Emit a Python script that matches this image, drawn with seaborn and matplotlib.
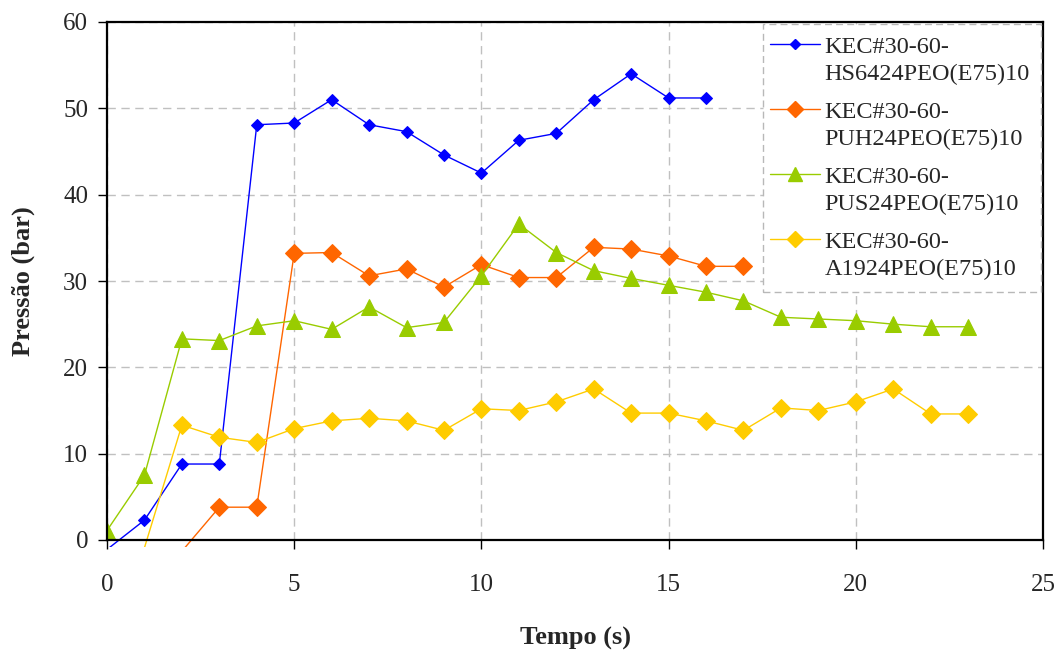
import numpy as np
import pandas as pd
import matplotlib
matplotlib.use("Agg")
import matplotlib.pyplot as plt
from matplotlib.lines import Line2D
from matplotlib.patches import Rectangle
from matplotlib.legend_handler import HandlerLine2D
from matplotlib.transforms import Bbox, TransformedBbox
import seaborn as sns

# Pressure (bar) versus time (s) for four formulations
t_hs = list(range(0, 17))
p_hs = [-1.1, 2.3, 8.8, 8.8, 48.1, 48.3, 51.0, 48.1, 47.3, 44.6, 42.5, 46.3, 47.1, 51.0, 54.0, 51.2, 51.2]

t_puh = list(range(2, 18))
p_puh = [-1.3, 3.8, 3.8, 33.2, 33.3, 30.6, 31.4, 29.3, 31.9, 30.4, 30.4, 33.9, 33.7, 32.9, 31.7, 31.7]

t_pus = list(range(0, 24))
p_pus = [1.1, 7.5, 23.3, 23.1, 24.8, 25.4, 24.4, 27.0, 24.6, 25.2, 30.6, 36.6, 33.3, 31.2, 30.3, 29.5,
         28.7, 27.7, 25.8, 25.6, 25.4, 25.0, 24.7, 24.7]

t_a19 = list(range(1, 24))
p_a19 = [-0.9, 13.3, 11.9, 11.3, 12.9, 13.8, 14.1, 13.8, 12.7, 15.2, 15.0, 16.0, 17.5, 14.7, 14.7,
         13.8, 12.7, 15.3, 15.0, 16.0, 17.5, 14.6, 14.6]

series_names = ["KEC#30-60-\nHS6424PEO(E75)10", "KEC#30-60-\nPUH24PEO(E75)10",
                "KEC#30-60-\nPUS24PEO(E75)10", "KEC#30-60-\nA1924PEO(E75)10"]
series_t = [t_hs, t_puh, t_pus, t_a19]
series_p = [p_hs, p_puh, p_pus, p_a19]
colors = ["#0000FF", "#FF6600", "#99CC00", "#FFCC00"]
markers = ["D", "D", "^", "D"]
msizes = [6, 9, 11, 9]
leg_msizes = [5, 8, 10, 8]

x_ticks = [0, 5, 10, 15, 20, 25]
y_ticks = [0, 10, 20, 30, 40, 50, 60]

sns.set_theme(style="white")
plt.rcParams["font.family"] = ["Liberation Serif", "DejaVu Serif"]

LEG_FS = 17.5
W, H = 1063, 653
AX_L, AX_R, AX_T, AX_B = 107, 1043, 22, 540


def ax_x(px):
    return (px - AX_L) / (AX_R - AX_L)


def ax_y(py):
    return (AX_B - py) / (AX_B - AX_T)


class FirstLineHandler(HandlerLine2D):
    """Legend handle drawn level with the first line of a two-line label."""

    def __init__(self, shift, **kw):
        super().__init__(**kw)
        self.shift = shift

    def create_artists(self, legend, orig_handle, xdescent, ydescent, width, height,
                       fontsize, trans):
        arts = super().create_artists(legend, orig_handle, xdescent, ydescent, width,
                                      height, fontsize, trans)
        for a in arts:
            a.set_ydata(np.asarray(a.get_ydata(), dtype=float) + self.shift)
        return arts


fig = plt.figure(figsize=(W / 100, H / 100), dpi=100)
ax = fig.add_axes([AX_L / W, (H - AX_B) / H, (AX_R - AX_L) / W, (AX_B - AX_T) / H])

# lines may run a little past the bottom axis, markers stay inside
line_clip = TransformedBbox(Bbox([[0, -0.014], [1, 1]]), ax.transAxes)

handles = []
for name, t, p, c, m, ms, lms in zip(series_names, series_t, series_p, colors, markers,
                                     msizes, leg_msizes):
    df = pd.DataFrame({"Tempo": t, "Pressao": p})
    n_before = len(ax.lines)
    sns.lineplot(data=df, x="Tempo", y="Pressao", ax=ax, color=c, linewidth=1.0,
                 sort=False, estimator=None, legend=False)
    for ln in ax.lines[n_before:]:
        ln.set_clip_box(line_clip)
    sns.lineplot(data=df, x="Tempo", y="Pressao", ax=ax, color=c, linestyle="none",
                 marker=m, markersize=ms, markeredgecolor=c, sort=False, estimator=None,
                 legend=False)
    handles.append(Line2D([], [], color=c, linewidth=1.0, marker=m, markersize=lms,
                          markeredgecolor=c))

ax.set_xlim(0, 25)
ax.set_ylim(0, 60)
ax.set_xticks(x_ticks)
ax.set_yticks(y_ticks)
ax.tick_params(axis="both", which="major", labelsize=18, length=6.5, width=1.0,
               direction="out", color="black", bottom=True, left=True)
ax.tick_params(axis="y", pad=7)
ax.tick_params(axis="x", pad=18)
ax.grid(True, color="#c0c0c0", linestyle=(0, (6, 4)), linewidth=1.0)
for sp in ax.spines.values():
    sp.set_color("black")
    sp.set_linewidth(1.6)

ax.set_xlabel("Tempo (s)", fontsize=19, fontweight="bold", labelpad=22)
ax.set_ylabel("Pressão (bar)", fontsize=19, fontweight="bold", labelpad=20)

# legend box: white fill with a dashed grey outline
box_l, box_r, box_t, box_b = 763, 1041, 24, 292
ax.add_patch(Rectangle((ax_x(box_l), ax_y(box_b)), ax_x(box_r) - ax_x(box_l),
                       ax_y(box_t) - ax_y(box_b), transform=ax.transAxes,
                       facecolor="white", edgecolor="#b8b8b8", linewidth=1.0,
                       linestyle=(0, (5, 3)), zorder=4.5, clip_on=False))

shift = 0.68 * LEG_FS
leg = ax.legend(handles, series_names, loc="upper left",
                bbox_to_anchor=(ax_x(770), ax_y(37)),
                fontsize=LEG_FS, frameon=False, handlelength=2.05, handletextpad=0.2,
                labelspacing=0.7, borderpad=0.0, borderaxespad=0.0,
                handler_map={Line2D: FirstLineHandler(shift)})
leg.set_zorder(5)
for txt in leg.get_texts():
    txt.set_linespacing(1.36)

fig.savefig("out.png", dpi=100)
